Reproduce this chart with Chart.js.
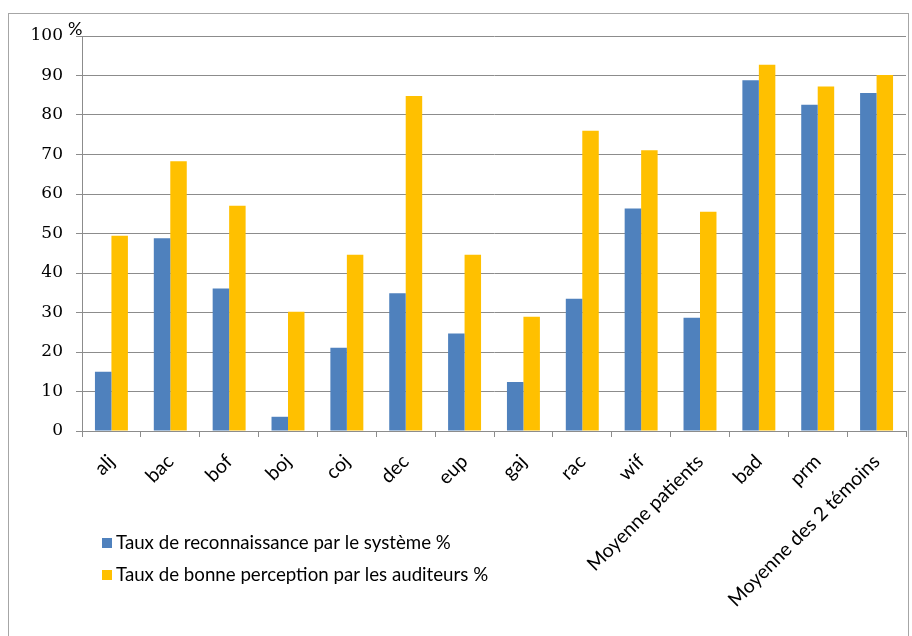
<!DOCTYPE html>
<html>
<head>
<meta charset="utf-8">
<script src="https://cdn.jsdelivr.net/npm/chart.js@4"></script>
<style>
  html, body { margin: 0; padding: 0; background: #fff; }
  #wrap { position: relative; width: 912px; height: 636px; }
  #frame { position: absolute; left: 8px; top: 13px; width: 901px; height: 630px; border: 1px solid #a6a6a6; box-sizing: border-box; }
  canvas { position: absolute; left: 0; top: 0; }
</style>
</head>
<body>
<div id="wrap">
  <div id="frame"></div>
  <canvas id="chart" width="912" height="636"></canvas>
</div>
<script>
// catégories
const categories = ['alj', 'bac', 'bof', 'boj', 'coj', 'dec', 'eup', 'gaj', 'rac', 'wif',
    'Moyenne patients', 'bad', 'prm', 'Moyenne des 2 témoins'];

// séries
const tauxSysteme = [15.0, 48.8, 36.1, 3.6, 21.1, 34.9, 24.7, 12.4, 33.5, 56.3, 28.7, 88.8, 82.6, 85.6];
const tauxAuditeurs = [49.4, 68.3, 57.0, 30.2, 44.6, 84.8, 44.6, 28.9, 76.0, 71.1, 55.5, 92.7, 87.2, 90.1];

const seriesLabels = ['Taux de reconnaissance par le système %', 'Taux de bonne perception par les auditeurs %'];
const seriesColors = ['#4F81BD', '#FFC000'];

// graduations
const yTicks = [0, 10, 20, 30, 40, 50, 60, 70, 80, 90, 100];

const sansFont = "Lato, 'Open Sans', sans-serif";

// légende + "%" dessinés à la main
const extrasPlugin = {
    id: 'extras',
    afterDraw(chart) {
        const ctx = chart.ctx;
        const y = chart.scales.y;
        ctx.save();
        ctx.fillStyle = '#000';
        ctx.font = "18px " + sansFont;
        ctx.textAlign = 'left';
        ctx.textBaseline = 'middle';
        ctx.fillText('%', y.right - 14, y.getPixelForValue(100) - 7);

        ctx.font = "18.7px " + sansFont;
        chart.data.datasets.forEach(function(ds, i) {
            const ly = 543 + i * 32;
            ctx.fillStyle = ds.backgroundColor;
            ctx.fillRect(102, ly - 5, 10, 10);
            ctx.fillStyle = '#000';
            ctx.fillText(ds.label, 116, ly);
        });
        ctx.restore();
    }
};

const ctx = document.getElementById('chart').getContext('2d');
new Chart(ctx, {
    type: 'bar',
    data: {
        labels: categories,
        datasets: [
            { label: seriesLabels[0], data: tauxSysteme, backgroundColor: seriesColors[0] },
            { label: seriesLabels[1], data: tauxAuditeurs, backgroundColor: seriesColors[1] }
        ]
    },
    options: {
        responsive: false,
        animation: false,
        layout: { padding: { left: 0, right: 6, top: 36, bottom: 0 } },
        datasets: { bar: { categoryPercentage: 0.56, barPercentage: 1.0 } },
        plugins: {
            legend: { display: false },
            tooltip: { enabled: false }
        },
        scales: {
            x: {
                grid: { drawOnChartArea: false, offset: true, tickLength: 6, color: '#8c8c8c' },
                border: { color: '#8c8c8c', width: 1 },
                ticks: {
                    color: '#000',
                    font: { family: sansFont, size: 19.5 },
                    minRotation: 45,
                    maxRotation: 45,
                    autoSkip: false,
                    padding: 13
                },
                afterFit: function(s) { s.height = 205; }
            },
            y: {
                min: 0,
                max: 100,
                afterBuildTicks: function(s) { s.ticks = yTicks.map(v => ({ value: v })); },
                grid: { color: '#8c8c8c', tickLength: 6, lineWidth: 1 },
                border: { color: '#8c8c8c', width: 1 },
                ticks: {
                    color: '#000',
                    font: { family: "'DejaVu Serif', serif", size: 17 },
                    padding: 13
                },
                afterFit: function(s) { s.width = 82; }
            }
        }
    },
    plugins: [extrasPlugin]
});
</script>
</body>
</html>
